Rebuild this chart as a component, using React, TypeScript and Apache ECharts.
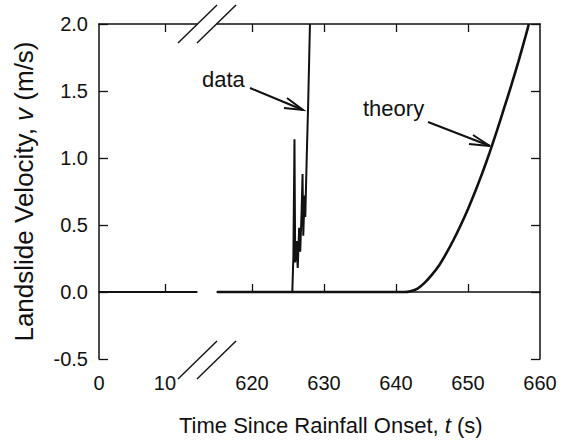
import React, { useEffect, useRef } from "react";
import * as echarts from "echarts";

// Time axis is broken: left segment (0..~15 s), right segment (~615..660 s)
const leftRange = [0, 14.85];
const rightRange = [615.14, 660];
const leftTickLabels = [0, 10];
const leftTicks = [10];
const rightTickLabels = [620, 630, 640, 650, 660];
const rightTicks = [620, 630, 640, 650];

// Data (measured velocity) – left segment
const dataLeftT = [0, 14.85];
const dataLeftV = [0, 0];
// Data – right segment
const dataT = [615.14, 625.6, 625.75, 625.9, 626.0, 626.2, 626.35, 626.55, 626.7, 626.9, 627.02, 627.12, 627.3, 627.4, 627.6, 627.8, 628.05];
const dataV = [0, 0, 0.27, 1.14, 0.22, 0.38, 0.18, 0.48, 0.3, 0.62, 0.88, 0.42, 0.72, 0.56, 1.0, 1.4, 2.0];
// Theory
const theoryT = [615.14, 641.2, 642, 643, 644, 645, 646, 647, 648, 649, 650, 651, 652, 653, 654, 655, 656, 657, 658, 658.45];
const theoryV = [0, 0, 0.006, 0.026, 0.07, 0.13, 0.2, 0.29, 0.39, 0.5, 0.62, 0.75, 0.89, 1.04, 1.2, 1.37, 1.54, 1.72, 1.91, 2.0];

const zip = (a: number[], b: number[]) => a.map((v, i) => [v, b[i]]);

const FONT = "Liberation Sans, Arial, Helvetica, sans-serif";
const INK = "#111";

export default function App() {
  const ref = useRef<HTMLDivElement>(null);
  useEffect(() => {
    if (!ref.current) return;
    const chart = echarts.init(ref.current, null, { renderer: "svg" });
    const axisLine = { show: true, lineStyle: { color: INK, width: 1.5 } };
    const grids = [
      { left: 99, top: 24, width: 98, height: 335 },
      { left: 217, top: 24, width: 323, height: 335 },
    ];
    const xBase = (gridIndex: number, range: number[], pos: string, labels: number[] | null, ticks: number[]) => ({
      type: "value",
      gridIndex,
      position: pos,
      min: range[0],
      max: range[1],
      axisLine,
      splitLine: { show: false },
      axisTick: { show: true, inside: true, length: 8, customValues: ticks, lineStyle: { color: INK, width: 1.3 } },
      axisLabel: labels
        ? { show: true, customValues: labels, margin: 14, fontSize: 20, fontFamily: FONT, color: INK }
        : { show: false },
    });
    const option: any = {
      animation: false,
      backgroundColor: "#fff",
      textStyle: { fontFamily: FONT },
      title: {
        text: "Time Since Rainfall Onset, {i|t} (s)",
        left: 174,
        top: 409,
        textStyle: {
          fontSize: 22,
          fontWeight: "normal",
          fontFamily: FONT,
          color: INK,
          rich: { i: { fontStyle: "italic", fontSize: 22, fontFamily: FONT, color: INK } },
        },
      },
      grid: grids,
      xAxis: [
        xBase(0, leftRange, "bottom", leftTickLabels, leftTicks),
        xBase(1, rightRange, "bottom", rightTickLabels, rightTicks),
        xBase(0, leftRange, "top", null, leftTicks),
        xBase(1, rightRange, "top", null, rightTicks),
      ],
      yAxis: [
        {
          type: "value",
          gridIndex: 0,
          position: "left",
          min: -0.5,
          max: 2.0,
          interval: 0.5,
          axisLine,
          splitLine: { show: false },
          axisTick: { show: true, inside: true, length: 9, lineStyle: { color: INK, width: 1.3 } },
          axisLabel: {
            margin: 11,
            fontSize: 20,
            fontFamily: FONT,
            color: INK,
            formatter: (v: number) => v.toFixed(1),
          },
          name: "Landslide Velocity, {i|v} (m/s)",
          nameLocation: "middle",
          nameGap: 62,
          nameTextStyle: {
            fontSize: 26,
            fontFamily: FONT,
            color: INK,
            rich: { i: { fontStyle: "italic", fontSize: 26, fontFamily: FONT, color: INK } },
          },
        },
        {
          type: "value",
          gridIndex: 1,
          position: "right",
          min: -0.5,
          max: 2.0,
          interval: 0.5,
          axisLine,
          splitLine: { show: false },
          axisTick: { show: true, inside: true, length: 9, lineStyle: { color: INK, width: 1.3 } },
          axisLabel: { show: false },
        },
      ],
      series: [
        {
          type: "line",
          xAxisIndex: 0,
          yAxisIndex: 0,
          data: zip(dataLeftT, dataLeftV),
          showSymbol: false,
          lineStyle: { color: INK, width: 2 },
        },
        {
          type: "line",
          name: "theory",
          xAxisIndex: 1,
          yAxisIndex: 1,
          data: zip(theoryT, theoryV),
          showSymbol: false,
          smooth: 0.2,
          lineStyle: { color: INK, width: 2.6 },
        },
        {
          type: "line",
          name: "data",
          xAxisIndex: 1,
          yAxisIndex: 1,
          data: zip(dataT, dataV),
          showSymbol: false,
          lineStyle: { color: INK, width: 2 },
        },
      ],
      graphic: [
        // axis break marks
        { type: "rect", shape: { x: 198, y: 20, width: 18, height: 8 }, style: { fill: "#fff" }, z: 100 },
        { type: "rect", shape: { x: 198, y: 355, width: 18, height: 8 }, style: { fill: "#fff" }, z: 100 },
        { type: "line", shape: { x1: 178, y1: 43, x2: 217, y2: 5 }, style: { stroke: INK, lineWidth: 1.4 }, z: 101 },
        { type: "line", shape: { x1: 197, y1: 43, x2: 236, y2: 5 }, style: { stroke: INK, lineWidth: 1.4 }, z: 101 },
        { type: "line", shape: { x1: 178, y1: 379, x2: 217, y2: 341 }, style: { stroke: INK, lineWidth: 1.4 }, z: 101 },
        { type: "line", shape: { x1: 197, y1: 379, x2: 236, y2: 341 }, style: { stroke: INK, lineWidth: 1.4 }, z: 101 },
        // annotation: data
        {
          type: "text",
          x: 202,
          y: 79,
          style: { text: "data", fontSize: 22, fontFamily: FONT, fill: INK, verticalAlign: "middle", align: "left" },
          z: 101,
        },
        { type: "line", shape: { x1: 250, y1: 88, x2: 303, y2: 110 }, style: { stroke: INK, lineWidth: 2 }, z: 101 },
        { type: "polyline", shape: { points: [[287, 98], [303, 110], [284, 108]] }, style: { stroke: INK, lineWidth: 2, fill: "none" }, z: 101 },
        // annotation: theory
        {
          type: "text",
          x: 363,
          y: 108,
          style: { text: "theory", fontSize: 22, fontFamily: FONT, fill: INK, verticalAlign: "middle", align: "left" },
          z: 101,
        },
        { type: "line", shape: { x1: 428, y1: 122, x2: 490, y2: 146 }, style: { stroke: INK, lineWidth: 2 }, z: 101 },
        { type: "polyline", shape: { points: [[473, 135], [490, 146], [469, 144]] }, style: { stroke: INK, lineWidth: 2, fill: "none" }, z: 101 },
      ],
    };
    chart.setOption(option);
    return () => chart.dispose();
  }, []);
  return (
    <div
      ref={ref}
      style={{ position: "fixed", left: 0, top: 0, width: 569, height: 445, background: "#fff" }}
    />
  );
}
